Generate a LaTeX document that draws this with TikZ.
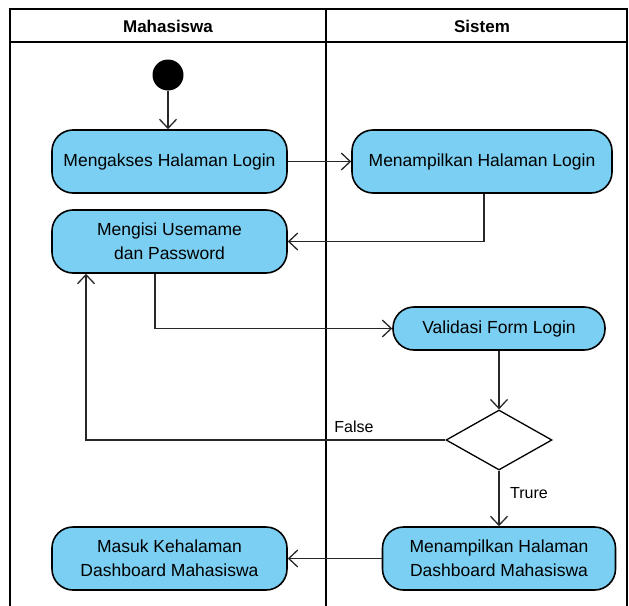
\documentclass[tikz,border=0pt]{standalone}
\usepackage{fontspec}
\setmainfont{Liberation Sans}
\usetikzlibrary{arrows.meta,shapes.geometric,calc}
\definecolor{actfill}{RGB}{122,207,242}
\definecolor{lnk}{RGB}{40,40,40}
\tikzset{
  act/.style={draw=black, line width=1.6pt, fill=actfill, rounded corners=21pt,
    minimum height=63pt, align=center, inner sep=0pt, font=\fontsize{17.5}{24}\selectfont},
  flow/.style={draw=lnk, line width=1.3pt, -{Straight Barb[length=9pt,width=17pt,line width=1.3pt]}},
  lane/.style={draw=black, line width=1.8pt},
  lbl/.style={font=\fontsize{16}{19}\selectfont, inner sep=0pt}
}
\begin{document}
\begin{tikzpicture}[x=1pt,y=-1pt]
\useasboundingbox (0,0) rectangle (629,605);
% swimlanes
\draw[lane] (10,606) -- (10,9) -- (627,9) -- (627,606);
\draw[lane] (10,42) -- (627,42);
\draw[lane] (326,9) -- (326,606);
\node[font=\bfseries\fontsize{17}{20}\selectfont] (h1) at (168,26) {Mahasiswa};
\node[font=\bfseries\fontsize{17}{20}\selectfont] (h2) at (482,26) {Sistem};
% nodes
\node[circle, fill=black, minimum size=31pt, inner sep=0pt] (start) at (168,75) {};
\node[act, minimum width=235pt] (n1) at (169.5,161.5) {Mengakses Halaman Login};
\node[act, minimum width=260pt] (n2) at (482,161.5) {Menampilkan Halaman Login};
\node[act, minimum width=235pt] (n3) at (169.5,241.5) {Mengisi Usemame\\dan Password};
\node[act, minimum width=212pt, minimum height=43pt] (n4) at (499,328.5) {Validasi Form Login};
\node[diamond, draw=black, line width=1.3pt, fill=white, minimum width=106pt, minimum height=60pt, inner sep=0pt] (dec) at (499,440) {};
\node[act, minimum width=233pt] (n5) at (499,558.5) {Menampilkan Halaman\\Dashboard Mahasiswa};
\node[act, minimum width=235pt] (n6) at (169.5,558.5) {Masuk Kehalaman\\Dashboard Mahasiswa};
% connectors
\draw[flow] (start) -- (start |- n1.north);
\draw[flow] (n1) -- (n2);
\draw[flow] ([xshift=2pt]n2.south) |- (n3.east);
\draw[flow] ([xshift=-14.5pt]n3.south) |- (n4.west);
\draw[flow] (n4) -- (dec);
\draw[flow] (dec.west) -| ([xshift=-83.5pt]n3.south);
\draw[flow] (dec) -- (n5);
\draw[flow] (n5) -- (n6);
\node[lbl] (lf) at (354,427) {False};
\node[lbl] (lt) at (529,493) {Trure};
\end{tikzpicture}
\end{document}
